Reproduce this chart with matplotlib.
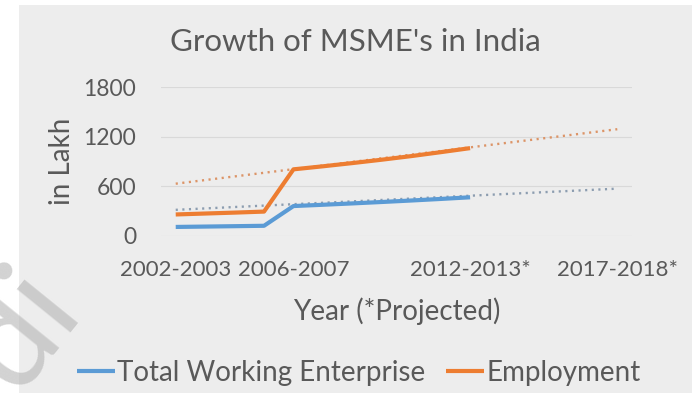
import matplotlib
matplotlib.use("Agg")
import matplotlib.pyplot as plt
from matplotlib.patches import Rectangle

# Catégories (années) et séries en lakh
years = ["2002-2003", "2003-2004", "2004-2005", "2005-2006", "2006-2007",
         "2007-2008", "2008-2009", "2009-2010", "2010-2011", "2011-2012",
         "2012-2013*", "2013-2014*", "2014-2015*", "2015-2016*", "2016-2017*",
         "2017-2018*"]
enterprises = [109.49, 113.95, 118.59, 123.42, 361.76, 377.36, 393.70,
               410.82, 428.73, 447.64, 467.54]
employment = [260.21, 271.42, 282.57, 294.91, 805.23, 842.00, 880.84,
              921.79, 965.15, 1012.59, 1061.52]
# tendances (début / fin de la projection)
enterprises_trend = [316, 572]
employment_trend = [632, 1290]
shown_years = ["2002-2003", "2006-2007", "2012-2013*", "2017-2018*"]
yticks = [0, 600, 1200, 1800]

blue = "#5B9BD5"
orange = "#ED7D31"
txt = "#595959"
plt.rcParams["font.family"] = ["Lato", "DejaVu Sans"]

W, H = 697, 400
fig = plt.figure(figsize=(W/100, H/100), dpi=100)
fig.patch.set_facecolor("white")
fig.patches.append(Rectangle((19/W, 1-393/H), (692-19)/W, (393-5)/H,
                             transform=fig.transFigure, facecolor="#ededed",
                             edgecolor="none", zorder=-1))

ax = fig.add_axes([161/W, 1-236/H, (632-161)/W, (236-87)/H])
ax.set_facecolor("none")

x = list(range(len(years)))
ax.plot([x[0], x[-1]], enterprises_trend, color="#8c9db0", lw=1.7,
        linestyle=(0, (0.9, 1.9)), zorder=2)
ax.plot([x[0], x[-1]], employment_trend, color="#dc9467", lw=1.7,
        linestyle=(0, (0.9, 1.9)), zorder=2)
l1, = ax.plot(x[:len(enterprises)], enterprises, color=blue, lw=3.0,
              solid_capstyle="butt", zorder=3, label="Total Working Enterprise")
l2, = ax.plot(x[:len(employment)], employment, color=orange, lw=3.0,
              solid_capstyle="butt", zorder=3, label="Employment")

ax.set_xlim(-0.5, len(years) - 0.5)
ax.set_ylim(0, 1800)
ax.set_yticks(yticks)
ax.set_xticks([years.index(y) for y in shown_years])
ax.set_xticklabels(shown_years)
ax.grid(axis="y", color="#d9d9d9", lw=0.8)
ax.set_axisbelow(True)
for s in ax.spines.values():
    s.set_visible(False)
ax.tick_params(axis="y", length=0, pad=18, labelsize=16.5, labelcolor=txt)
ax.tick_params(axis="x", length=0, pad=17, labelsize=16, labelcolor=txt)

fig.text(355/W, 1-42/H, "Growth of MSME's in India", fontsize=22.5,
         color=txt, ha="center", va="center")
ax.set_ylabel("in Lakh", fontsize=20, color=txt, labelpad=6)
ax.set_xlabel("Year (*Projected)", fontsize=20, color=txt, labelpad=13)

fig.legend(handles=[l1, l2], loc="center", bbox_to_anchor=(359/W, 1-373/H),
           ncol=2, frameon=False, fontsize=20, labelcolor=txt,
           handlelength=1.35, handletextpad=0.1, columnspacing=0.75)

# filigrane
fig.text(15/W, 1-395/H, "di", fontsize=98, color="#b5b5b5", alpha=0.6,
         rotation=51, rotation_mode="anchor", ha="left", va="baseline",
         zorder=5)

fig.savefig("out.png", dpi=100)
